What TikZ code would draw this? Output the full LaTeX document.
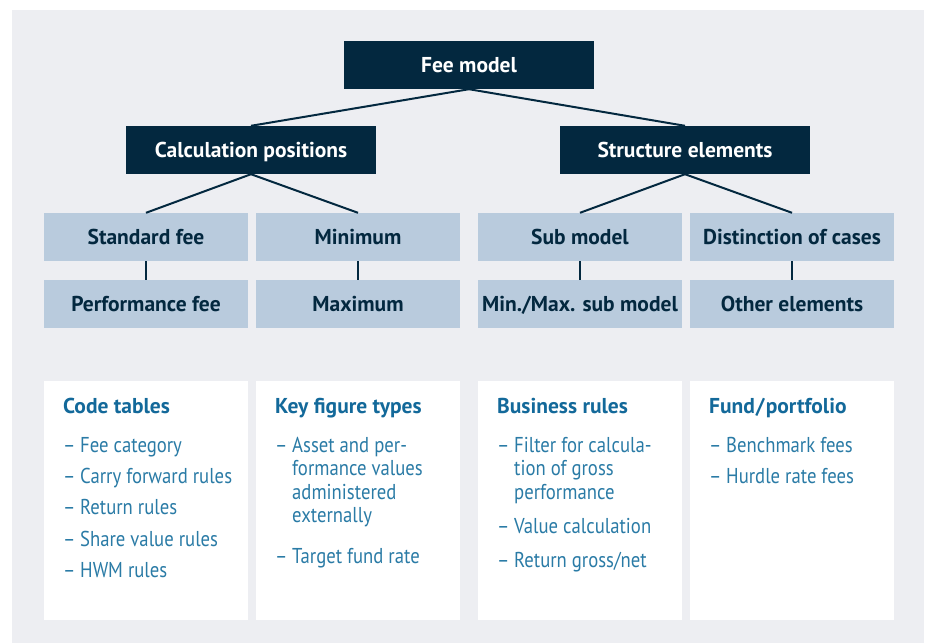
\documentclass[tikz,border=0pt]{standalone}
\usepackage{fontspec}
\setmainfont{PT Sans}
\newfontfamily\narrowfont{PT Sans}[FakeStretch=0.87]
\definecolor{navy}{HTML}{03283F}
\definecolor{pale}{HTML}{B9CBDD}
\definecolor{canvas}{HTML}{EDEEF2}
\definecolor{headblue}{HTML}{13699A}
\definecolor{bodyblue}{HTML}{2A7BA6}
\tikzset{
  boxfont/.style={font=\bfseries\fontsize{21.5}{24}\selectfont,
    text height=15pt, text depth=0pt},
  darkbox/.style={boxfont, fill=navy, text=white,
    minimum width=250pt, minimum height=48pt, inner sep=0pt},
  palebox/.style={boxfont, fill=pale, text=navy,
    minimum width=204pt, minimum height=48pt, inner sep=0pt},
  panel/.style={fill=white, minimum width=204pt, minimum height=239pt, inner sep=0pt},
  head/.style={text=headblue, font=\bfseries\fontsize{21.5}{24}\selectfont,
    anchor=base west, inner sep=0pt},
  entry/.style={text=bodyblue, font=\narrowfont\fontsize{21.5}{23.5}\selectfont,
    anchor=base west, inner sep=0pt},
  link/.style={draw=navy, line width=2pt},
}
% dash-led list entry; continuation lines hang under the text
\newcommand{\entrytext}[1]{\makebox[17pt][l]{–}\begin{tabular}[t]{@{}l@{}}#1\end{tabular}}
\begin{document}
\begin{tikzpicture}[x=1pt,y=-1pt]
\useasboundingbox (0,0) rectangle (928,643);
\fill[canvas] (12,10) rectangle (924,643);

% hierarchy boxes
\node[darkbox] (fee) at (469,65) {Fee model};
\node[darkbox] (calc) at (251,150) {Calculation positions};
\node[darkbox] (struct) at (685,150) {Structure elements};

\node[palebox] (std) at (146,237) {Standard fee};
\node[palebox] (min) at (358,237) {Minimum};
\node[palebox] (sub) at (580,237) {Sub model};
\node[palebox] (dist) at (792,237) {Distinction of cases};
\node[palebox] (perf) at (146,304) {Performance fee};
\node[palebox] (max) at (358,304) {Maximum};
\node[palebox] (minmax) at (580,304) {Min./Max. sub model};
\node[palebox] (other) at (792,304) {Other elements};

% connectors
\draw[link] (fee.south) -- (calc.north);
\draw[link] (fee.south) -- (struct.north);
\draw[link] (calc.south) -- (std.north);
\draw[link] (calc.south) -- (min.north);
\draw[link] (struct.south) -- (sub.north);
\draw[link] (struct.south) -- (dist.north);
\draw[link] (std) -- (perf);
\draw[link] (min) -- (max);
\draw[link] (sub) -- (minmax);
\draw[link] (dist) -- (other);

% lower panels
\node[panel] (p1) at (146,500.5) {};
\node[panel] (p2) at (358,500.5) {};
\node[panel] (p3) at (580,500.5) {};
\node[panel] (p4) at (792,500.5) {};

\node[head] (h1) at (63,413) {Code tables};
\node[entry] (a1) at (63,452) {\entrytext{Fee category}};
\node[entry] (a2) at (63,483) {\entrytext{Carry forward rules}};
\node[entry] (a3) at (63,514) {\entrytext{Return rules}};
\node[entry] (a4) at (63,546) {\entrytext{Share value rules}};
\node[entry] (a5) at (63,577) {\entrytext{HWM rules}};

\node[head] (h2) at (275,413) {Key figure types};
\node[entry] (b1) at (275,452) {\entrytext{Asset and per-\\formance values\\administered\\externally}};
\node[entry] (b2) at (275,563) {\entrytext{Target fund rate}};

\node[head] (h3) at (497,413) {Business rules};
\node[entry] (c1) at (497,452) {\entrytext{Filter for calcula-\\tion of gross\\performance}};
\node[entry] (c2) at (497,533) {\entrytext{Value calculation}};
\node[entry] (c3) at (497,567) {\entrytext{Return gross/net}};

\node[head] (h4) at (709,413) {Fund\kern1pt/\kern1pt portfolio};
\node[entry] (d1) at (709,452) {\entrytext{Benchmark fees}};
\node[entry] (d2) at (709,483) {\entrytext{Hurdle rate fees}};
\end{tikzpicture}
\end{document}
